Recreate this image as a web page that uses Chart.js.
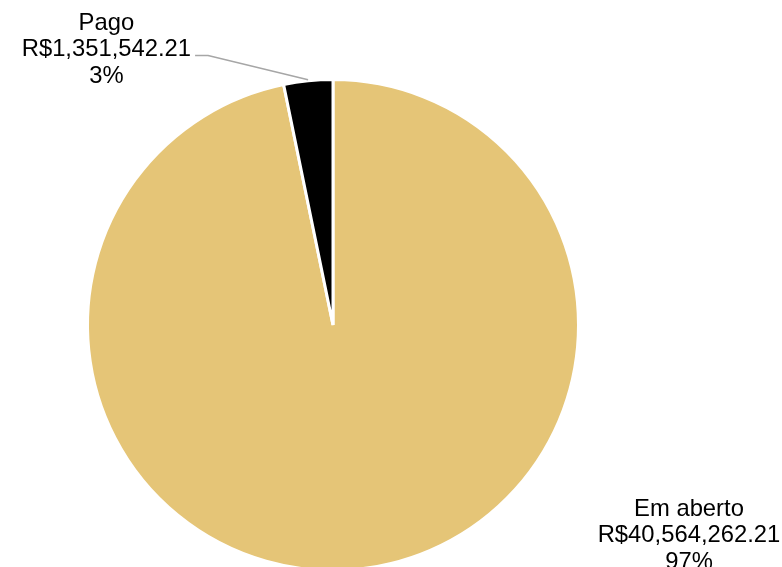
<!DOCTYPE html>
<html>
<head>
<meta charset="utf-8">
<script src="https://cdn.jsdelivr.net/npm/chart.js@4/dist/chart.umd.min.js"></script>
<style>
  html, body { margin: 0; padding: 0; background: #ffffff; overflow: hidden; }
  #wrap { position: relative; width: 782px; height: 600px; }
</style>
</head>
<body>
<div id="wrap"><canvas id="c"></canvas></div>
<script>
const categories = ['Em aberto', 'Pago'];
const values = [40564262.21, 1351542.21];
const valueLabels = ['R$40,564,262.21', 'R$1,351,542.21'];
const percentLabels = ['97%', '3%'];
const colors = ['#E5C577', '#000000'];
// label placement relative to pie centre, in units of radius (x centre, middle-line baseline)
const labelOffsets = [[1.450, 0.885], [-0.923, -1.094]];
const leaderLines = [false, true];

const labelPlugin = {
  id: 'pieLabels',
  afterDatasetsDraw(chart) {
    const ctx = chart.ctx;
    const meta = chart.getDatasetMeta(0);
    ctx.save();
    ctx.font = '23.8px "Liberation Sans", Arial, sans-serif';
    ctx.fillStyle = '#000000';
    ctx.textAlign = 'center';
    ctx.textBaseline = 'alphabetic';
    meta.data.forEach((arc, i) => {
      const p = arc.getProps(['x', 'y', 'startAngle', 'endAngle', 'outerRadius'], true);
      const r = p.outerRadius;
      const lx = p.x + labelOffsets[i][0] * r;
      const ly = p.y + labelOffsets[i][1] * r;
      const lh = 26.7;
      const lines = [categories[i], valueLabels[i], percentLabels[i]];
      lines.forEach((t, k) => ctx.fillText(t, lx, ly + (k - 1) * lh));
      if (leaderLines[i]) {
        const w = ctx.measureText(valueLabels[i]).width;
        const mid = (p.startAngle + p.endAngle) / 2;
        const ex = p.x + Math.cos(mid) * (r + 1);
        const ey = p.y + Math.sin(mid) * (r + 1);
        const sx = lx + w / 2 + 4;
        const sy = ly - 1;
        ctx.beginPath();
        ctx.strokeStyle = '#A6A6A6';
        ctx.lineWidth = 1.5;
        ctx.moveTo(sx, sy);
        ctx.lineTo(sx + 13, sy);
        ctx.lineTo(ex, ey);
        ctx.stroke();
      }
    });
    ctx.restore();
  }
};

new Chart(document.getElementById('c'), {
  type: 'pie',
  data: {
    labels: categories,
    datasets: [{
      data: values,
      backgroundColor: colors,
      borderColor: '#ffffff',
      borderWidth: 3,
      hoverOffset: 0
    }]
  },
  options: {
    responsive: true,
    maintainAspectRatio: false,
    animation: false,
    layout: { padding: { left: 86, right: 202, top: 78, bottom: 28 } },
    plugins: {
      legend: { display: false },
      tooltip: { enabled: false }
    }
  },
  plugins: [labelPlugin]
});
</script>
</body>
</html>
